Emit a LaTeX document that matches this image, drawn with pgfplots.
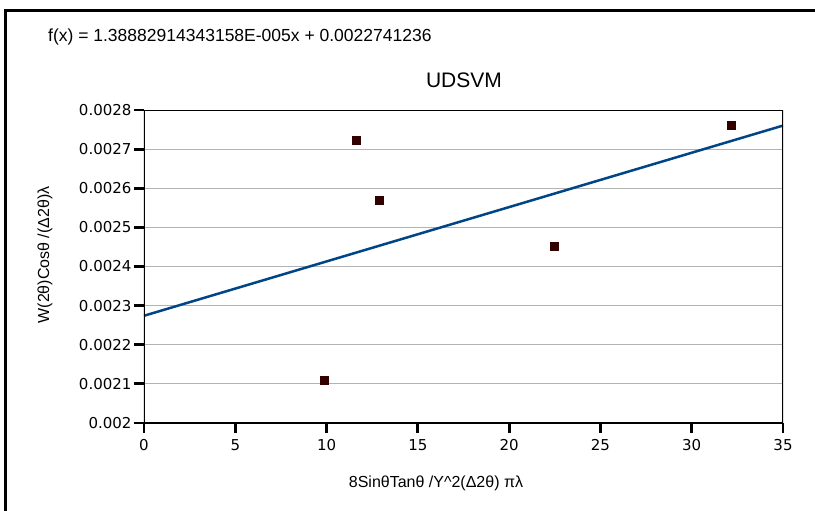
\documentclass[border=0pt]{standalone}
\usepackage{fontspec}
\setmainfont{Liberation Sans}
\newfontfamily\tickfont{DejaVu Sans}
\usepackage{pgfplots}
\pgfplotsset{compat=1.18}
\definecolor{trend}{HTML}{004586}
\definecolor{mk}{HTML}{330000}
\definecolor{gridc}{HTML}{B3B3B3}
\begin{document}
\begin{tikzpicture}
\path[use as bounding box] (0pt,0pt) rectangle (815pt,-511pt);
\draw[line width=3pt] (5.5pt,-700pt) -- (5.5pt,-10.5pt) -- (1000pt,-10.5pt);
\node[anchor=west,font=\fontsize{17.5}{19}\selectfont,inner sep=0pt] at (48pt,-37pt) {f(x) = 1.38882914343158E-005x + 0.0022741236};
\node[font=\fontsize{21}{24}\selectfont,inner sep=0pt] at (464pt,-80pt) {UDSVM};
\begin{axis}[at={(144pt,-423pt)}, anchor=south west, scale only axis,
  width=639pt, height=313pt,
  xmin=0, xmax=35, ymin=0.002, ymax=0.0028,
  scaled y ticks=false, scaled x ticks=false,
  axis line style={draw=none},
  xtick={0,5,10,15,20,25,30,35},
  ytick={0.002,0.0021,0.0022,0.0023,0.0024,0.0025,0.0026,0.0027,0.0028},
  yticklabels={0.002,0.0021,0.0022,0.0023,0.0024,0.0025,0.0026,0.0027,0.0028},
  xtick pos=bottom, ytick pos=left,
  tick align=outside, major tick length=10pt,
  every tick/.style={black, line width=2.8pt},
  xtick style={black, line width=2.8pt},
  ytick style={black, line width=2.8pt},
  ymajorgrids, grid style={gridc, line width=1pt},
  major grid style={gridc, line width=1pt},
  /pgf/number format/assume math mode=true,
  ticklabel style={font=\tickfont\fontsize{15}{17}\selectfont},
  xticklabel style={yshift=-3pt},
  yticklabel style={xshift=1pt},
  xlabel={8SinθTanθ /Y\^{}2(Δ2θ) πλ},
  ylabel={W(2θ)Cosθ /(Δ2θ)λ},
  label style={font=\fontsize{16}{18}\selectfont},
  xlabel style={at={(axis description cs:0.457,-0.192)}, anchor=center},
  ylabel style={at={(axis description cs:-0.155,0.537)}, anchor=center},
  clip=true,
]
\addplot[trend, line width=2.5pt] coordinates {(0,0.0022741236) (35,0.0027602138)};
\addplot[only marks, mark=square*, mark size=4pt, mark options={fill=mk, draw=mk}] coordinates {
(9.86,0.00211)
(11.65,0.002723)
(12.87,0.002569)
(22.46,0.002452)
(32.14,0.00276)
};
\draw[black, line width=1.3pt] (rel axis cs:0,1) -- (rel axis cs:1,1);
\draw[black, line width=3pt] (rel axis cs:0,1) -- (rel axis cs:0,0) -- (rel axis cs:1,0) -- (rel axis cs:1,1);
\end{axis}
\end{tikzpicture}
\end{document}
